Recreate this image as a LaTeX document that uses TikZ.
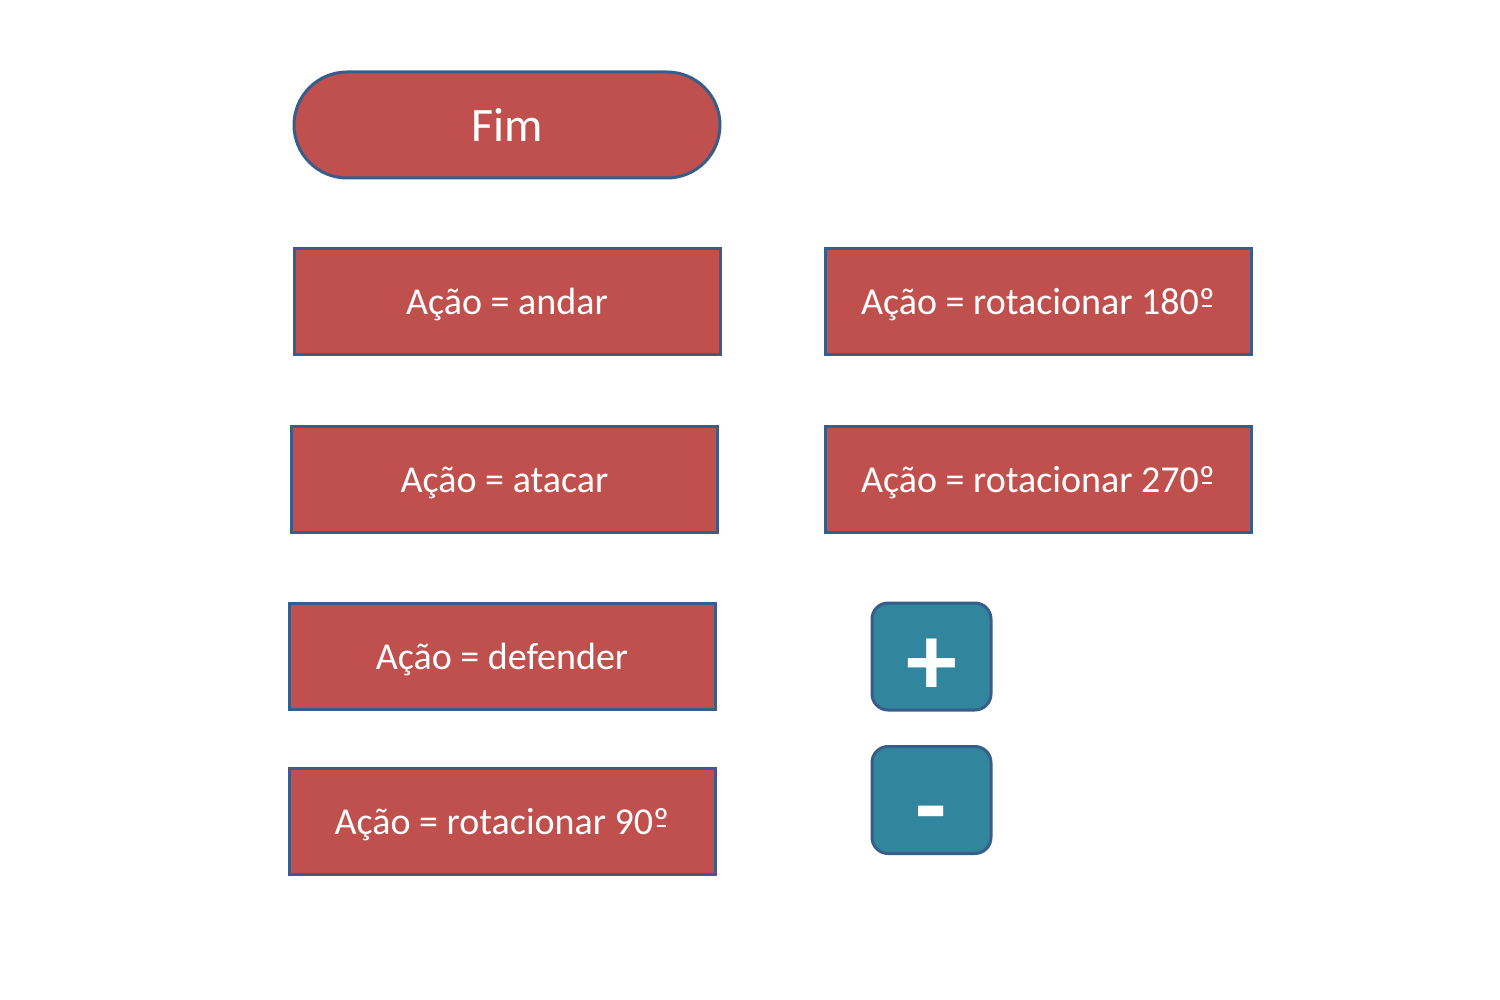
\documentclass[tikz,border=0pt]{standalone}
\usepackage{fontspec}
\setmainfont{Carlito}
\usetikzlibrary{shapes.misc}
\definecolor{boxred}{HTML}{C0504D}
\definecolor{boxblue}{HTML}{385D8A}
\definecolor{btnteal}{HTML}{31859C}
\newcommand\ordmark{\leavevmode\hbox{\ooalign{º\cr\hidewidth\rule[0.2em]{0.25em}{0.055em}\hidewidth\cr}}}
\tikzset{
  actbox/.style={draw=boxblue, line width=3pt, fill=boxred, text=white, inner sep=0pt,
    minimum width=426pt, minimum height=106pt, text height=26pt, text depth=0pt,
    font=\fontsize{38}{45}\selectfont},
  endbox/.style={draw=boxblue, line width=3pt, fill=boxred, text=white, inner sep=0pt,
    rounded rectangle, minimum width=426pt, minimum height=106pt, text height=33pt, text depth=0pt,
    font=\fontsize{48}{56}\selectfont},
  btn/.style={draw=boxblue, line width=3pt, fill=btnteal, inner sep=0pt,
    rounded corners=16pt, minimum width=119pt, minimum height=107pt},
  btntext/.style={text=white, inner sep=0pt, font=\fontsize{102}{102}\selectfont\bfseries},
}
\begin{document}
\begin{tikzpicture}[x=1pt,y=-1pt]
\useasboundingbox (0,0) rectangle (1500,1000);
\node[endbox] (fim) at (507,125) {Fim};
\node[actbox] (andar) at (507,302) {Ação = andar};
\node[actbox] (atacar) at (504.5,479) {Ação = atacar};
\node[actbox] (defender) at (502,656) {Ação = defender};
\node[actbox] (rot90) at (502,821.5) {Ação = rotacionar 90\ordmark};
\node[actbox] (rot180) at (1038,302) {Ação = rotacionar 180\ordmark};
\node[actbox] (rot270) at (1038,479) {Ação = rotacionar 270\ordmark};
\node[btn] (plus) at (931.5,656.5) {};
\node[btn] (minus) at (931.5,800) {};
\node[btntext] (plustext) at ([yshift=-11pt]plus.center) {+};
\node[btntext] (minustext) at ([yshift=-23pt]minus.center) {-};
\end{tikzpicture}
\end{document}
